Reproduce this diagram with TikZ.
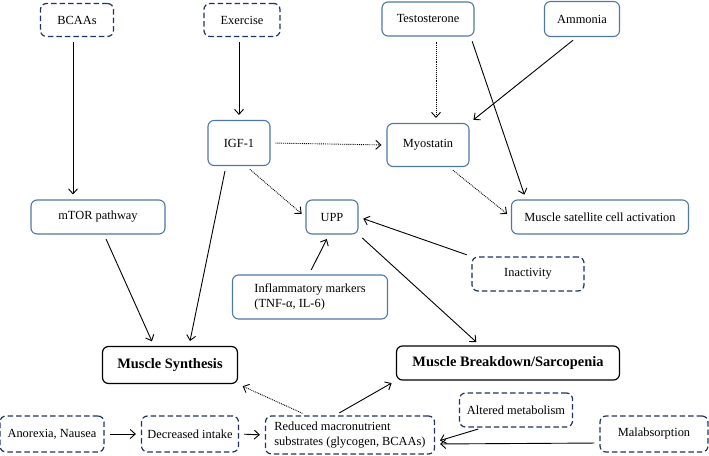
\documentclass[tikz,border=0pt]{standalone}
\usepackage{fontspec}
\setmainfont{Liberation Serif}
\usetikzlibrary{arrows.meta, positioning}
\definecolor{boxblue}{HTML}{4F77A8}
\definecolor{navy}{HTML}{1F3267}
\tikzset{
    solidbox/.style={draw=boxblue, line width=1.1pt, rounded corners=6pt, align=center, font=\fontsize{12.4}{14.5}\selectfont},
    dashbox/.style={draw=navy, line width=1.2pt, dash pattern=on 5.5pt off 3pt, rounded corners=6pt, align=center, font=\fontsize{12.4}{14.5}\selectfont},
    mainbox/.style={draw=black, line width=1.2pt, rounded corners=6pt, align=center, font=\fontsize{14.4}{16}\selectfont\bfseries},
    link/.style={->, line width=0.9pt, shorten <=5pt, shorten >=5pt},
    weaklink/.style={link, densely dotted},
    >={Straight Barb[length=5pt,width=9pt]},
}

\begin{document}
\begin{tikzpicture}[x=1pt, y=-1pt]

    \useasboundingbox (0,0) rectangle (709,455);

    % Nodes
    \node (bcaas) at (77,20)  [dashbox,  minimum width=73pt,  minimum height=33pt] {BCAAs};
    \node (exer)  at (242,20) [dashbox,  minimum width=76pt,  minimum height=33pt] {Exercise};
    \node (testo) at (428,19) [solidbox, minimum width=92pt,  minimum height=34pt] {Testosterone};
    \node (amm)   at (582,19) [solidbox, minimum width=75pt,  minimum height=35pt] {Ammonia};
    \node (igf)   at (239,143) [solidbox, minimum width=62pt,  minimum height=45pt] {IGF-1};
    \node (myo)   at (428,145) [solidbox, minimum width=82pt,  minimum height=43pt] {Myostatin};
    \node (mtor)  at (98,217)  [solidbox, minimum width=134pt, minimum height=34pt] {mTOR pathway};
    \node (upp)   at (332,217) [solidbox, minimum width=52pt,  minimum height=34pt] {UPP};
    \node (sat)   at (600,217) [solidbox, minimum width=177pt, minimum height=34pt] {Muscle satellite cell activation};
    \node (inact) at (528,274) [dashbox,  minimum width=112pt, minimum height=34pt] {Inactivity};
    \node (infl)  at (310,297) [solidbox, minimum width=155pt, minimum height=44pt, align=left] {Inflammatory markers\\(TNF-α, IL-6)};
    \node (syn)   at (170,365) [mainbox,  minimum width=135pt, minimum height=37pt] {Muscle Synthesis};
    \node (brk)   at (508,363) [mainbox,  minimum width=223pt, minimum height=34pt] {Muscle Breakdown/Sarcopenia};
    \node (alt)   at (516,410) [dashbox,  minimum width=113pt, minimum height=34pt] {Altered metabolism};
    \node (anx)   at (52,434)  [dashbox,  minimum width=104pt, minimum height=36pt] {Anorexia, Nausea};
    \node (dec)   at (190,434) [dashbox,  minimum width=97pt,  minimum height=36pt] {Decreased intake};
    \node (red)   at (350,435) [dashbox,  minimum width=169pt, minimum height=38pt, align=left, inner sep=2pt] {Reduced macronutrient\\substrates (glycogen, BCAAs)};
    \node (mal)   at (654,434) [dashbox,  minimum width=108pt, minimum height=36pt] {Malabsorption};

    % Connectors
    \draw [link] ([xshift=-4pt]bcaas.south) -- ([xshift=-25pt]mtor.north);
    \draw [link] ([xshift=-3pt]exer.south) -- (igf.north);
    \draw [weaklink] (igf.east) -- (myo.west);
    \draw [weaklink] ([xshift=7pt]igf.south) -- (upp.west);
    \draw [link] ([xshift=-13pt]igf.south) -- ([xshift=19pt]syn.north);
    \draw [link] ([xshift=6pt]mtor.south) -- ([xshift=-16pt]syn.north);
    \draw [weaklink] ([xshift=8pt]testo.south) -- ([xshift=8pt]myo.north);
    \draw [link] ([xshift=-4pt]testo.south east) -- ([xshift=-74pt]sat.north);
    \draw [link] ([xshift=-5pt]amm.south) -- (myo.north east);
    \draw [weaklink] ([xshift=21pt]myo.south) -- (sat.west);
    \draw [link] (inact.north west) -- (upp.east);
    \draw [link] (upp.south east) -- ([xshift=-28pt]brk.north);
    \draw [link] ([xshift=-1pt]infl.north) -- ([xshift=-3pt]upp.south);
    \draw [weaklink] ([xshift=-43pt]red.north) -- (syn.south east);
    \draw [link] ([xshift=-15pt]red.north) -- (brk.south west);
    \draw [link] (anx.east) -- (dec.west);
    \draw [link] (dec.east) -- (red.west);
    \draw [link] ([xshift=-33pt]alt.south) -- ([yshift=-7pt]red.east);
    \draw [link] ([yshift=-9pt]mal.west) -- ([yshift=-9pt]red.east);

\end{tikzpicture}
\end{document}
